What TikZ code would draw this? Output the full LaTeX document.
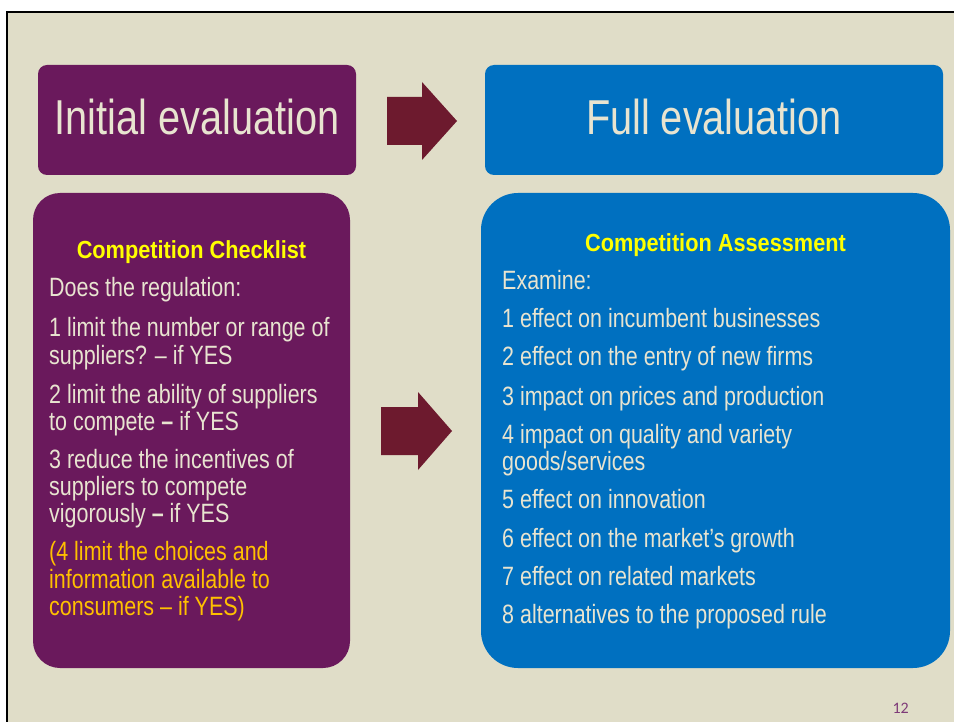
\documentclass[tikz,border=0pt]{standalone}
\usepackage{fontspec}
\setmainfont{Liberation Sans}[FakeStretch=0.81]
\newfontfamily\headfont{Liberation Sans}[FakeStretch=0.88]
\newfontfamily\numfont{Carlito}

\definecolor{slidebg}{HTML}{E0DDC8}
\definecolor{plum}{HTML}{6A195C}
\definecolor{ocean}{HTML}{0070C0}
\definecolor{maroon}{HTML}{6D1A2E}
\definecolor{cream}{HTML}{E8E4D0}
\definecolor{amber}{HTML}{FFC000}
\definecolor{lemon}{HTML}{FFFF00}
\definecolor{pagenum}{HTML}{7E3A78}

\tikzset{
  titletext/.style={anchor=base, text=cream, inner sep=0pt,
    font=\fontsize{49}{49}\selectfont},
  headtext/.style={anchor=base, text=lemon, inner sep=0pt,
    font=\headfont\bfseries\fontsize{24.7}{24.7}\selectfont},
  bodytext/.style={anchor=base west, text=cream, inner sep=0pt,
    font=\fontsize{26.5}{26.5}\selectfont},
  notetext/.style={bodytext, text=amber},
  blockarrow/.style={fill=maroon, draw=none},
}

\begin{document}
\begin{tikzpicture}[x=1pt, y=-1pt]
\useasboundingbox (0,0) rectangle (954,722);
% page and frame
\fill[white] (0,0) rectangle (954,722);
\fill[slidebg] (7,12) rectangle (954,722);
\draw[black, line width=2pt] (7,722) -- (7,12) -- (954,12);

% header boxes
\fill[plum, rounded corners=9] (38,65) rectangle (356,175);
\fill[ocean, rounded corners=9] (485,65) rectangle (943,175);
\node[titletext] (initial) at (197,135) {Initial evaluation};
\node[titletext] (full) at (714,135) {Full evaluation};

% body boxes
\fill[plum, rounded corners=27] (33,193) rectangle (350,668);
\fill[ocean, rounded corners=37] (481,193) rectangle (950,668);

% block arrows between the columns
\fill[blockarrow] (387,97) -- (422,97) -- (422,82) -- (457,121)
  -- (422,160) -- (422,145) -- (387,145) -- cycle;
\fill[blockarrow] (381,407) -- (418,407) -- (418,392) -- (452,431)
  -- (418,470) -- (418,455) -- (381,455) -- cycle;

% checklist column
\node[headtext] (chkhead) at (191.5,259) {Competition Checklist};
\node[bodytext] (chk0) at (49,297) {Does the regulation:};
\node[bodytext] (chk1a) at (49,337) {1 limit the number or range of};
\node[bodytext] (chk1b) at (49,364) {suppliers? – if YES};
\node[bodytext] (chk2a) at (49,403) {2 limit the ability of suppliers};
\node[bodytext] (chk2b) at (49,430) {to compete \textbf{–} if YES};
\node[bodytext] (chk3a) at (49,468) {3 reduce the incentives of};
\node[bodytext] (chk3b) at (49,495) {suppliers to compete};
\node[bodytext] (chk3c) at (49,522) {vigorously \textbf{–} if YES};
\node[notetext] (chk4a) at (49,560) {(4 limit the choices and};
\node[notetext] (chk4b) at (49,588) {information available to};
\node[notetext] (chk4c) at (49,615) {consumers – if YES)};

% assessment column
\node[headtext] (ashead) at (715.5,252) {Competition Assessment};
\node[bodytext] (as0) at (502,290) {Examine:};
\node[bodytext] (as1) at (502,328) {1 effect on incumbent businesses};
\node[bodytext] (as2) at (502,366) {2 effect on the entry of new firms};
\node[bodytext] (as3) at (502,405) {3 impact on prices and production};
\node[bodytext] (as4a) at (502,443) {4 impact on quality and variety};
\node[bodytext] (as4b) at (502,470) {goods/services};
\node[bodytext] (as5) at (502,508) {5 effect on innovation};
\node[bodytext] (as6) at (502,547) {6 effect on the market’s growth};
\node[bodytext] (as7) at (502,585) {7 effect on related markets};
\node[bodytext] (as8) at (502,623) {8 alternatives to the proposed rule};

% slide number
\node[anchor=base east, inner sep=0pt, text=pagenum,
  font=\numfont\fontsize{16}{16}\selectfont] (pageno) at (909,713) {12};
\end{tikzpicture}
\end{document}
